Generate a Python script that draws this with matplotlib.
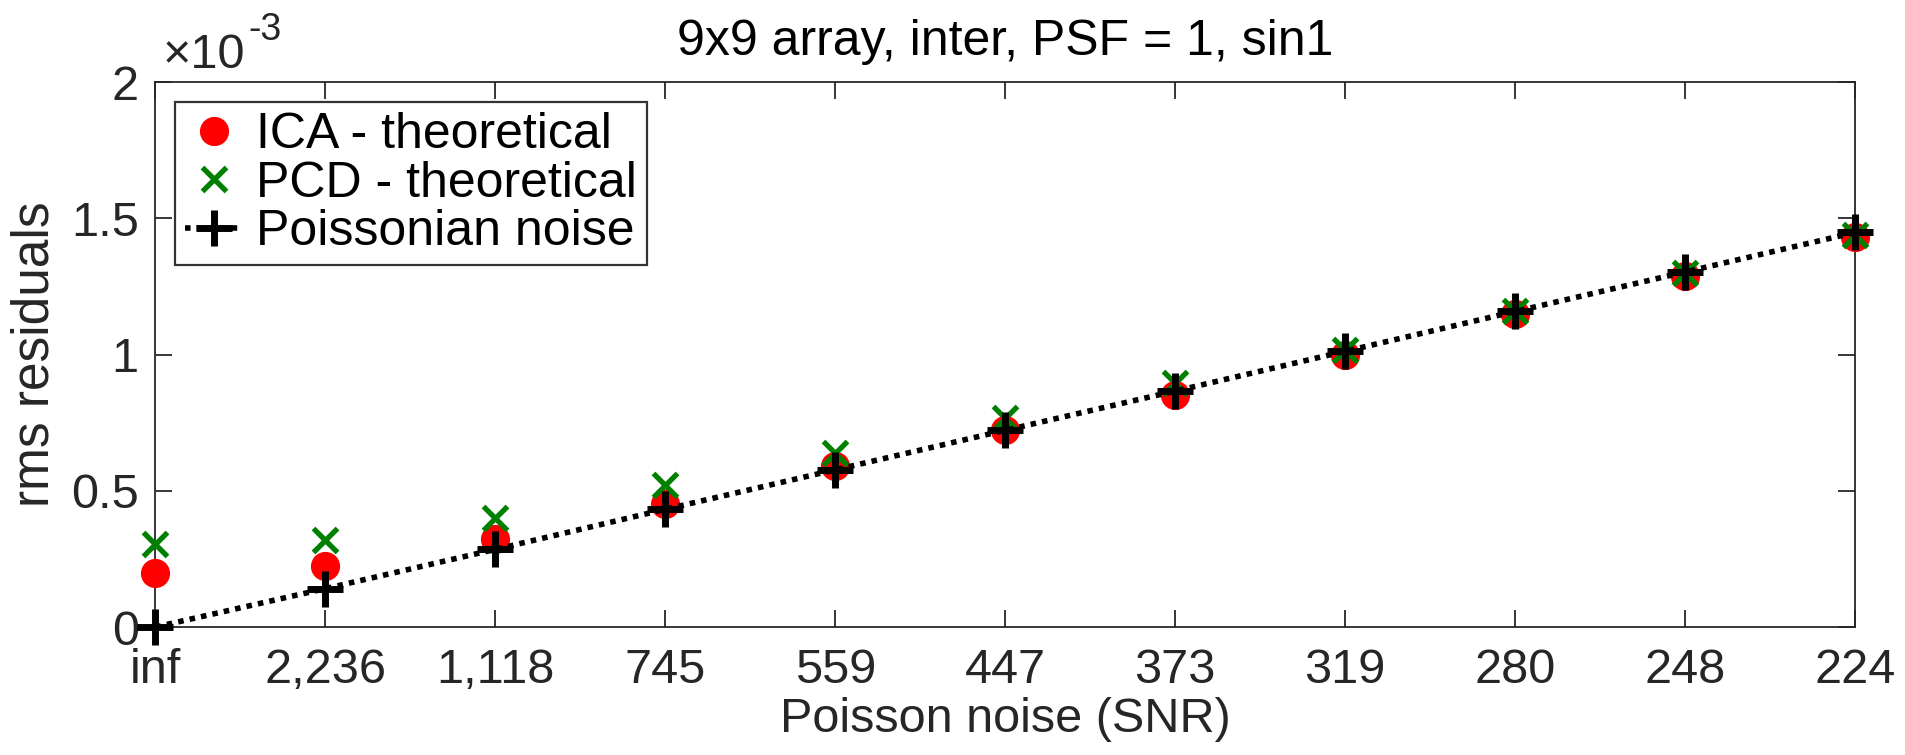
import matplotlib
matplotlib.use("Agg")
import matplotlib.pyplot as plt
from matplotlib.ticker import FuncFormatter, MultipleLocator

plt.rcParams['font.family'] = ['Liberation Sans', 'DejaVu Sans']

# SNR categories along the x axis
snr_labels = ['inf', '2,236', '1,118', '745', '559', '447', '373', '319', '280', '248', '224']

# rms residuals for each method
ica_theoretical = [0.200e-3, 0.225e-3, 0.322e-3, 0.452e-3, 0.592e-3, 0.722e-3,
                   0.852e-3, 0.998e-3, 1.150e-3, 1.290e-3, 1.430e-3]
pcd_theoretical = [0.303e-3, 0.319e-3, 0.399e-3, 0.522e-3, 0.640e-3, 0.768e-3,
                   0.895e-3, 1.018e-3, 1.158e-3, 1.298e-3, 1.438e-3]
poissonian_noise = [0.0, 0.141e-3, 0.285e-3, 0.432e-3, 0.577e-3, 0.722e-3,
                    0.866e-3, 1.012e-3, 1.158e-3, 1.303e-3, 1.448e-3]

x = list(range(len(snr_labels)))
gray = '#262626'

fig = plt.figure(figsize=(19.05, 7.55), dpi=100)
ax = fig.add_axes([0.0816, 0.1695, 0.8922, 0.7218])

ax.plot(x, ica_theoretical, linestyle='none', marker='o', color='#ff0000',
        markersize=20, label='ICA - theoretical', clip_on=False, zorder=3)
ax.plot(x, pcd_theoretical, linestyle='none', marker='x', color='#008000',
        markersize=17.5, markeredgewidth=3.8, label='PCD - theoretical', clip_on=False, zorder=4)
ax.plot(x, poissonian_noise, linestyle=(0, (1, 1.1)), linewidth=4, color='black',
        marker='+', markersize=26, markeredgewidth=5, label='Poissonian noise',
        clip_on=False, zorder=5)

ax.set_xlim(0, len(snr_labels) - 1)
ax.set_ylim(0, 2e-3)
ax.set_xticks(x)
ax.set_xticklabels(snr_labels)
ax.yaxis.set_major_locator(MultipleLocator(0.5e-3))
ax.yaxis.set_major_formatter(FuncFormatter(lambda v, _: f"{v * 1e3:g}"))

for side in ax.spines.values():
    side.set_color(gray)
    side.set_linewidth(1.3)
ax.tick_params(direction='in', length=12.5, width=1.3, colors=gray,
               labelsize=35, top=True, right=True)
ax.tick_params(axis='x', pad=15)
ax.tick_params(axis='y', pad=12)

# axis multiplier drawn above the top-left corner
ax.text(0.0044, 1.0257, '\u00d710', transform=ax.transAxes,
        fontsize=35, color=gray, ha='left', va='baseline')
ax.text(0.0545, 1.077, '-3', transform=ax.transAxes,
        fontsize=27, color=gray, ha='left', va='baseline')

ax.set_title('9x9 array, inter, PSF = 1, sin1', fontsize=36, color='black', pad=19.5)
ax.set_xlabel('Poisson noise (SNR)', fontsize=35, color=gray, labelpad=3)
ax.set_ylabel('rms residuals', fontsize=37, color=gray, labelpad=8)

leg = ax.legend(loc='upper left', fontsize=36, frameon=True, fancybox=False,
                edgecolor='black', borderpad=0.2, handlelength=1.16,
                handletextpad=0.26, labelspacing=0.05, borderaxespad=0.4)
leg.get_frame().set_linewidth(1.6)

fig.savefig('out.png', dpi=100)
